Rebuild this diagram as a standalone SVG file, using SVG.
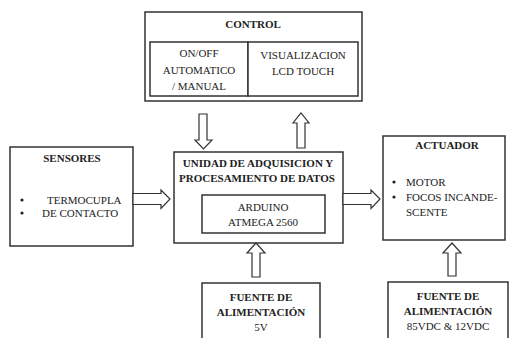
<svg xmlns="http://www.w3.org/2000/svg" width="511" height="338" viewBox="0 0 511 338" font-family="'Liberation Serif', 'DejaVu Serif', serif">
<style>
.box{fill:#fff;stroke:#333;stroke-width:1.5}
.arr{fill:#fff;stroke:#333;stroke-width:1.2;stroke-linejoin:miter}
text{font-family:'Liberation Serif','DejaVu Serif',serif;font-size:11px;fill:#222}
.b{font-weight:bold}
.c{text-anchor:middle}
</style>
<rect width="511" height="338" fill="#fff"/>
<g id="control">
<rect class="box" x="145" y="12" width="217" height="89"/>
<text class="b c" x="253" y="28">CONTROL</text>
<g id="onoff">
<rect class="box" x="150" y="42" width="98" height="54"/>
<text class="c" x="199" y="57">ON/OFF</text>
<text class="c" x="199" y="74">AUTOMATICO</text>
<text class="c" x="199" y="90">/ MANUAL</text>
</g>
<g id="lcd">
<rect class="box" x="248" y="42" width="110" height="54"/>
<text class="c" x="303" y="59">VISUALIZACION</text>
<text class="c" x="303" y="75">LCD TOUCH</text>
</g>
</g>
<g id="sensores">
<rect class="box" x="10" y="147" width="123" height="99"/>
<text class="b c" x="72" y="162">SENSORES</text>
<circle cx="22" cy="200" r="1.6" fill="#222"/>
<circle cx="22" cy="213" r="1.6" fill="#222"/>
<text x="47" y="204">TERMOCUPLA</text>
<text x="42" y="217">DE CONTACTO</text>
</g>
<g id="unidad">
<rect class="box" x="174" y="152" width="169" height="91"/>
<text class="b c" x="258" y="167">UNIDAD DE ADQUISICION Y</text>
<text class="b c" x="257" y="182">PROCESAMIENTO DE DATOS</text>
<g id="arduino">
<rect class="box" x="202" y="195" width="123" height="38"/>
<text class="c" x="263" y="211">ARDUINO</text>
<text class="c" x="263" y="226">ATMEGA 2560</text>
</g>
</g>
<g id="actuador">
<rect class="box" x="383" y="136" width="122" height="104"/>
<text class="b c" x="447" y="149">ACTUADOR</text>
<circle cx="394" cy="182" r="1.6" fill="#222"/>
<circle cx="394" cy="197" r="1.6" fill="#222"/>
<text x="406" y="186">MOTOR</text>
<text x="406" y="201">FOCOS INCANDE-</text>
<text x="406" y="216">SCENTE</text>
</g>
<g id="fuente5v">
<rect class="box" x="202" y="283" width="118" height="70"/>
<text class="b c" x="261" y="301">FUENTE DE</text>
<text class="b c" x="261" y="316">ALIMENTACIÓN</text>
<text class="c" x="261" y="331">5V</text>
</g>
<g id="fuente85">
<rect class="box" x="388" y="282" width="120" height="70"/>
<text class="b c" x="448" y="300">FUENTE DE</text>
<text class="b c" x="448" y="315">ALIMENTACIÓN</text>
<text class="c" x="448" y="330">85VDC &amp; 12VDC</text>
</g>
<g id="connectors">
<polygon class="arr" points="199,114 207,114 207,140 212,140 203.5,149 195,140 199,140"/>
<polygon class="arr" points="297,148 305,148 305,123 309,123 301,113 293,123 297,123"/>
<polygon class="arr" points="133,193.5 161,193.5 161,190 170,199 161,208.5 161,204.5 133,204.5"/>
<polygon class="arr" points="343,193.5 371,193.5 371,190 380,199 371,208.5 371,204.5 343,204.5"/>
<polygon class="arr" points="252,277 260,277 260,253 265,253 256,243 247,253 252,253"/>
<polygon class="arr" points="448,276 456,276 456,253 461,253 452,243 443,253 448,253"/>
</g>
</svg>
